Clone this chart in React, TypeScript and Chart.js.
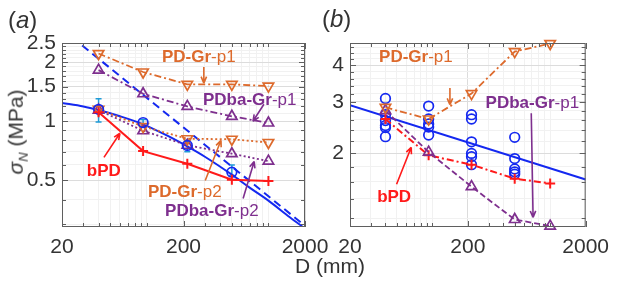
import React, { useEffect, useRef } from 'react';
import { Chart, registerables } from 'chart.js';

Chart.register(...registerables);

const FONT = '"Liberation Sans", Arial, Helvetica, sans-serif';
const ORANGE = '#DD6A2C';
const PURPLE = '#7E2F8E';
const RED = '#FF1A1A';
const BLUE = '#1428F0';
const CYAN = '#1E9BD7';
const TXT = '#333333';

// ---------- shared ----------
const SIZES = [40, 93, 215, 500, 1000];
const MEAN_SIZES = [40, 93, 215, 500];
const X_MAJOR = [20, 200, 2000];
const X_MINOR = [30, 40, 50, 60, 70, 80, 90, 100, 300, 400, 500, 600, 700, 800, 900, 1000];

// ---------- panel (a) ----------
const A_Y_MAJOR = [0.5, 1, 1.5, 2, 2.5];
const A_Y_MINOR = [0.3, 0.4, 0.6, 0.7, 0.8, 0.9, 1.1, 1.2, 1.3, 1.4, 1.6, 1.7, 1.8, 1.9, 2.1, 2.2, 2.3, 2.4];
const A_PDGR_P1 = [2.21, 1.78, 1.54, 1.54, 1.51];
const A_PDBAGR_P1 = [1.82, 1.38, 1.19, 1.06, 0.98];
const A_PDGR_P2 = [1.15, 0.94, 0.815, 0.81, 0.78];
const A_PDBAGR_P2 = [1.14, 0.895, 0.755, 0.684, 0.627];
const A_BPD = [1.11, 0.705, 0.608, 0.504, 0.497];
const A_MEAN = [1.15, 0.985, 0.754, 0.551];
const A_ERR_LO = [0.99, 0.94, 0.7, 0.53];
const A_ERR_HI = [1.3, 1.02, 0.8, 0.6];
const A_SEL_D = [20, 30, 40, 60, 93, 150, 215, 300, 500, 700, 1000, 1500, 2000];
const A_SEL_S = [1.24, 1.19, 1.14, 1.06, 0.965, 0.84, 0.745, 0.66, 0.535, 0.46, 0.395, 0.325, 0.285];
const A_ASYM_D = [20, 2000];
const A_ASYM_S = [2.94, 0.294];

// ---------- panel (b) ----------
const B_Y_MAJOR = [2, 3, 4];
const B_Y_MINOR = [1.2, 1.4, 1.6, 1.8, 2.2, 2.4, 2.6, 2.8, 3.2, 3.4, 3.6, 3.8, 4.2, 4.4, 4.6];
const B_PDGR_P1 = [2.87, 2.62, 3.2, 4.45, 4.74];
const B_PDBAGR_P1 = [2.8, 2.02, 1.54, 1.19, 1.13];
const B_BPD = [2.62, 1.97, 1.83, 1.64, 1.58];
const B_TESTS_40 = [3.08, 2.71, 2.59, 2.49, 2.45, 2.28];
const B_TESTS_93 = [2.9, 2.62, 2.52, 2.46, 2.31];
const B_TESTS_215 = [2.71, 2.62, 2.19, 2.0, 1.95, 1.83];
const B_TESTS_500 = [2.27, 1.92, 1.77, 1.73, 1.7];
const B_FIT_D = [20, 2000];
const B_FIT_S = [2.92, 1.63];

type Part = { t: string; b: boolean };
type Label = { x: number; y: number; parts: Part[]; color: string };
type Arrow = { x1: number; y1: number; x2: number; y2: number; color: string };

const A_LABELS: Label[] = [
  { x: 133, y: 2.12, parts: [{ t: 'PD-Gr', b: true }, { t: '-p1', b: false }], color: ORANGE },
  { x: 289, y: 1.28, parts: [{ t: 'PDba-Gr', b: true }, { t: '-p1', b: false }], color: PURPLE },
  { x: 32, y: 0.556, parts: [{ t: 'bPD', b: true }], color: RED },
  { x: 102, y: 0.434, parts: [{ t: 'PD-Gr', b: true }, { t: '-p2', b: false }], color: ORANGE },
  { x: 141, y: 0.347, parts: [{ t: 'PDba-Gr', b: true }, { t: '-p2', b: false }], color: PURPLE },
];
const A_ARROWS: Arrow[] = [
  { x1: 294, y1: 1.885, x2: 294, y2: 1.563, color: ORANGE },
  { x1: 918, y1: 1.22, x2: 746, y2: 1.0, color: PURPLE },
  { x1: 44.3, y1: 0.655, x2: 60, y2: 0.869, color: RED },
  { x1: 302, y1: 0.5, x2: 407, y2: 0.8, color: ORANGE },
  { x1: 619, y1: 0.405, x2: 763, y2: 0.625, color: PURPLE },
];
const B_LABELS: Label[] = [
  { x: 35.3, y: 4.26, parts: [{ t: 'PD-Gr', b: true }, { t: '-p1', b: false }], color: ORANGE },
  { x: 283, y: 2.97, parts: [{ t: 'PDba-Gr', b: true }, { t: '-p1', b: false }], color: PURPLE },
  { x: 34, y: 1.42, parts: [{ t: 'bPD', b: true }], color: RED },
];
const B_ARROWS: Arrow[] = [
  { x1: 141, y1: 3.34, x2: 141, y2: 2.93, color: ORANGE },
  { x1: 691, y1: 2.74, x2: 716, y2: 1.21, color: PURPLE },
  { x1: 49.7, y1: 1.57, x2: 66.2, y2: 2.1, color: RED },
];

const pts = (xs: number[], ys: number[]) => xs.map((x, i) => ({ x, y: ys[i] }));

function logAxis(axis: 'x' | 'y', min: number, max: number, majors: number[], minors: number[]) {
  const all = [...majors, ...minors].sort((a, b) => a - b);
  return {
    type: 'logarithmic',
    min,
    max,
    afterBuildTicks: (s: any) => {
      s.ticks = all.map((v) => ({ value: v }));
    },
    afterFit: (s: any) => {
      if (axis === 'x') s.height = 40;
      else s.width = 50;
    },
    ticks: {
      autoSkip: false,
      maxRotation: 0,
      minRotation: 0,
      padding: axis === 'x' ? 8 : 6,
      font: { family: FONT, size: 21 },
      color: TXT,
      callback: (v: any) => (majors.includes(Number(v)) ? String(v) : ''),
    },
    grid: {
      drawTicks: false,
      lineWidth: 1,
      color: (ctx: any) => (ctx.tick && majors.includes(ctx.tick.value) ? '#dcdcdc' : '#f1f1f1'),
    },
    border: { display: false },
  };
}

function drawArrow(ctx: CanvasRenderingContext2D, x1: number, y1: number, x2: number, y2: number, color: string) {
  ctx.save();
  ctx.strokeStyle = color;
  ctx.lineWidth = 1.6;
  ctx.setLineDash([]);
  ctx.beginPath();
  ctx.moveTo(x1, y1);
  ctx.lineTo(x2, y2);
  const a = Math.atan2(y2 - y1, x2 - x1);
  const h = 7;
  ctx.moveTo(x2, y2);
  ctx.lineTo(x2 - h * Math.cos(a - 0.4), y2 - h * Math.sin(a - 0.4));
  ctx.moveTo(x2, y2);
  ctx.lineTo(x2 - h * Math.cos(a + 0.4), y2 - h * Math.sin(a + 0.4));
  ctx.stroke();
  ctx.restore();
}

function makeDecor(
  xMaj: number[], xMin: number[], yMaj: number[], yMin: number[],
  labels: Label[], arrows: Arrow[],
  errs?: { xs: number[]; lo: number[]; hi: number[] }
) {
  return {
    id: 'decor',
    beforeDatasetsDraw(chart: any) {
      if (!errs) return;
      const { ctx, scales } = chart;
      ctx.save();
      ctx.strokeStyle = CYAN;
      ctx.lineWidth = 1.5;
      errs.xs.forEach((d, i) => {
        const x = scales.x.getPixelForValue(d);
        const y1 = scales.y.getPixelForValue(errs.lo[i]);
        const y2 = scales.y.getPixelForValue(errs.hi[i]);
        ctx.beginPath();
        ctx.moveTo(x, y1);
        ctx.lineTo(x, y2);
        ctx.moveTo(x - 3, y1);
        ctx.lineTo(x + 3, y1);
        ctx.moveTo(x - 3, y2);
        ctx.lineTo(x + 3, y2);
        ctx.stroke();
      });
      ctx.restore();
    },
    afterDraw(chart: any) {
      const { ctx, chartArea: ca, scales } = chart;
      ctx.save();
      ctx.strokeStyle = '#5f5f5f';
      ctx.lineWidth = 1;
      ctx.strokeRect(ca.left + 0.5, ca.top + 0.5, ca.right - ca.left - 1, ca.bottom - ca.top - 1);
      ctx.beginPath();
      const xt = (vals: number[], len: number) => {
        vals.forEach((v) => {
          const x = Math.round(scales.x.getPixelForValue(v)) + 0.5;
          ctx.moveTo(x, ca.bottom);
          ctx.lineTo(x, ca.bottom - len);
          ctx.moveTo(x, ca.top);
          ctx.lineTo(x, ca.top + len);
        });
      };
      const yt = (vals: number[], len: number) => {
        vals.forEach((v) => {
          const y = Math.round(scales.y.getPixelForValue(v)) + 0.5;
          ctx.moveTo(ca.left, y);
          ctx.lineTo(ca.left + len, y);
          ctx.moveTo(ca.right, y);
          ctx.lineTo(ca.right - len, y);
        });
      };
      xt(xMaj, 6);
      xt(xMin, 4);
      yt(yMaj, 6);
      yt(yMin, 4);
      ctx.stroke();
      ctx.restore();

      arrows.forEach((a) =>
        drawArrow(
          ctx,
          scales.x.getPixelForValue(a.x1), scales.y.getPixelForValue(a.y1),
          scales.x.getPixelForValue(a.x2), scales.y.getPixelForValue(a.y2),
          a.color
        )
      );
      ctx.save();
      ctx.textBaseline = 'middle';
      ctx.textAlign = 'left';
      labels.forEach((l) => {
        let cx = scales.x.getPixelForValue(l.x);
        const cy = scales.y.getPixelForValue(l.y);
        ctx.fillStyle = l.color;
        l.parts.forEach((p) => {
          ctx.font = `${p.b ? 'bold ' : ''}17px ${FONT}`;
          ctx.fillText(p.t, cx, cy);
          cx += ctx.measureText(p.t).width;
        });
      });
      ctx.restore();
    },
  };
}

const tri = (color: string, down: boolean, dash: number[], data: any) => ({
  data,
  borderColor: color,
  backgroundColor: 'rgba(0,0,0,0)',
  borderWidth: 1.8,
  borderDash: dash,
  pointStyle: 'triangle',
  pointRotation: down ? 180 : 0,
  pointRadius: 6,
  pointBorderWidth: 1.7,
  pointBorderColor: color,
  pointBackgroundColor: 'rgba(0,0,0,0)',
  clip: false,
});

const DASHDOT = [7, 3, 2, 3];
const DOTTED = [2, 2.5];

function configA() {
  return {
    type: 'line',
    data: {
      datasets: [
        {
          data: pts(SIZES, A_BPD), borderColor: RED, borderWidth: 2, pointStyle: 'cross', pointRadius: 5,
          pointBorderWidth: 2, pointBorderColor: RED, backgroundColor: RED, clip: false,
        },
        {
          data: pts(MEAN_SIZES, A_MEAN), showLine: false, pointStyle: 'circle', pointRadius: 4.8,
          pointBorderWidth: 1.7, pointBorderColor: BLUE, pointBackgroundColor: 'rgba(0,0,0,0)', borderColor: BLUE,
        },
        tri(ORANGE, true, DASHDOT, pts(SIZES, A_PDGR_P1)),
        tri(PURPLE, false, DASHDOT, pts(SIZES, A_PDBAGR_P1)),
        tri(ORANGE, true, DOTTED, pts(SIZES, A_PDGR_P2)),
        tri(PURPLE, false, DOTTED, pts(SIZES, A_PDBAGR_P2)),
        {
          data: pts(A_SEL_D, A_SEL_S), borderColor: BLUE, borderWidth: 2, pointRadius: 0,
          cubicInterpolationMode: 'monotone',
        },
        {
          data: pts(A_ASYM_D, A_ASYM_S), borderColor: BLUE, borderWidth: 2, pointRadius: 0, borderDash: [8, 5],
        },
      ],
    },
    options: {
      animation: false,
      responsive: false,
      maintainAspectRatio: false,
      events: [],
      layout: { padding: { left: 12, right: 312, top: 43, bottom: 20 } },
      plugins: { legend: { display: false }, tooltip: { enabled: false } },
      scales: {
        x: logAxis('x', 20, 2000, X_MAJOR, X_MINOR),
        y: logAxis('y', 0.29, 2.5, A_Y_MAJOR, A_Y_MINOR),
      },
    },
    plugins: [
      makeDecor(X_MAJOR, X_MINOR, A_Y_MAJOR, A_Y_MINOR, A_LABELS, A_ARROWS, {
        xs: MEAN_SIZES, lo: A_ERR_LO, hi: A_ERR_HI,
      }),
    ],
  };
}

function configB() {
  const tests = [
    ...B_TESTS_40.map((y) => ({ x: 40, y })),
    ...B_TESTS_93.map((y) => ({ x: 93, y })),
    ...B_TESTS_215.map((y) => ({ x: 215, y })),
    ...B_TESTS_500.map((y) => ({ x: 500, y })),
  ];
  return {
    type: 'line',
    data: {
      datasets: [
        tri(ORANGE, true, DASHDOT, pts(SIZES, B_PDGR_P1)),
        tri(PURPLE, false, [6, 3], pts(SIZES, B_PDBAGR_P1)),
        {
          data: pts(SIZES, B_BPD), borderColor: RED, borderWidth: 2, borderDash: DASHDOT, pointStyle: 'cross',
          pointRadius: 5, pointBorderWidth: 2, pointBorderColor: RED, backgroundColor: RED, clip: false,
        },
        {
          data: tests, showLine: false, pointStyle: 'circle', pointRadius: 4.8, pointBorderWidth: 1.7,
          pointBorderColor: BLUE, pointBackgroundColor: 'rgba(0,0,0,0)', borderColor: BLUE, clip: false,
        },
        { data: pts(B_FIT_D, B_FIT_S), borderColor: BLUE, borderWidth: 2, pointRadius: 0 },
      ],
    },
    options: {
      animation: false,
      responsive: false,
      maintainAspectRatio: false,
      events: [],
      layout: { padding: { left: 300, right: 24, top: 43, bottom: 20 } },
      plugins: { legend: { display: false }, tooltip: { enabled: false } },
      scales: {
        x: logAxis('x', 20, 2000, X_MAJOR, X_MINOR),
        y: logAxis('y', 1.122, 4.76, B_Y_MAJOR, B_Y_MINOR),
      },
    },
    plugins: [makeDecor(X_MAJOR, X_MINOR, B_Y_MAJOR, B_Y_MINOR, B_LABELS, B_ARROWS)],
  };
}

function Panel({ make }: { make: () => any }) {
  const ref = useRef<HTMLCanvasElement | null>(null);
  useEffect(() => {
    if (!ref.current) return;
    const chart = new Chart(ref.current, make());
    return () => chart.destroy();
  }, [make]);
  return (
    <canvas
      ref={ref}
      width={617}
      height={287}
      style={{ position: 'absolute', left: 0, top: 0, width: 617, height: 287 }}
    />
  );
}

export default function App() {
  const txt: React.CSSProperties = { position: 'absolute', fontFamily: FONT, color: TXT, whiteSpace: 'nowrap', lineHeight: 1 };
  return (
    <div style={{ position: 'fixed', left: 0, top: 0, width: 617, height: 287, background: '#fff', overflow: 'hidden' }}>
      <Panel make={configA} />
      <Panel make={configB} />
      <div style={{ ...txt, left: 8, top: 8, fontSize: 24 }}>
        (<i>a</i>)
      </div>
      <div style={{ ...txt, left: 322, top: 7, fontSize: 24 }}>
        (<i>b</i>)
      </div>
      <div style={{ ...txt, left: 295, top: 255, fontSize: 21 }}>D (mm)</div>
      <div
        style={{
          ...txt,
          left: 17,
          top: 132,
          fontSize: 21,
          transform: 'translate(-50%, -50%) rotate(-90deg)',
        }}
      >
        <i>σ</i>
        <sub style={{ fontSize: 13, fontStyle: 'italic', verticalAlign: '-0.35em' }}>N</sub> (MPa)
      </div>
    </div>
  );
}
